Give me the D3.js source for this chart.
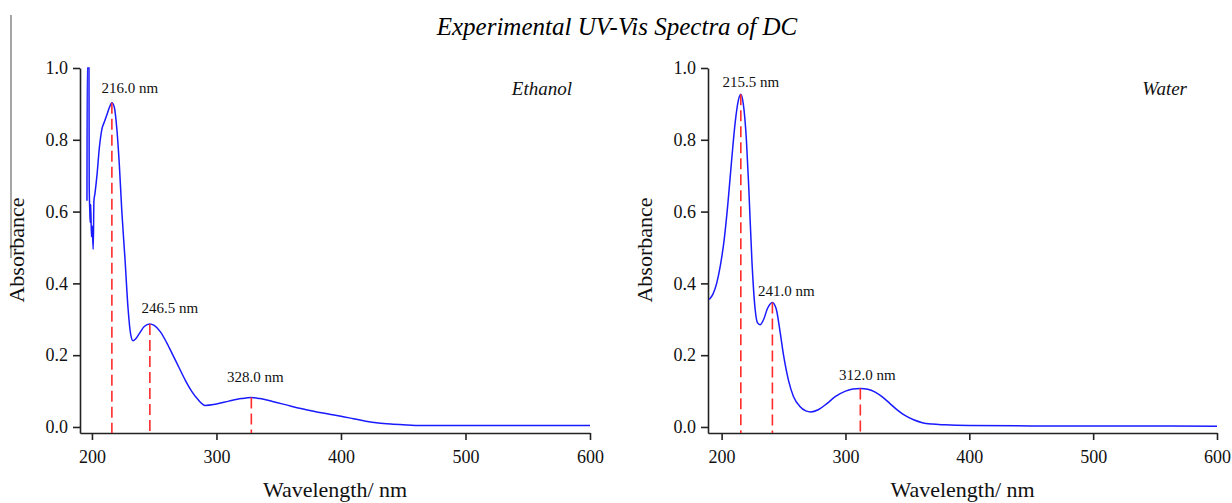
<!DOCTYPE html>
<html>
<head>
<meta charset="utf-8">
<script src="https://cdn.jsdelivr.net/npm/d3@7"></script>
<style>
  body { margin: 0; background: #fff; }
  svg { display: block; font-family: "Liberation Serif", "DejaVu Serif", serif; }
  .axis path, .axis line { stroke: #222; stroke-width: 1.6; }
  .spectrum { fill: none; stroke: #1a1aff; stroke-width: 1.5; }
  .peak-line { stroke: #ff2a2a; stroke-width: 1.6; stroke-dasharray: 11,5; }
  .peak-label { font-size: 15px; fill: #111; text-anchor: middle; }
  .solvent { font-size: 19px; font-style: italic; fill: #111; text-anchor: end; }
  .axis-title { font-size: 22px; fill: #111; text-anchor: middle; }
</style>
</head>
<body>
<svg id="chart" width="1232" height="503"></svg>
<script>
const ticksX = [200, 300, 400, 500, 600];
const ticksY = [0, 0.2, 0.4, 0.6, 0.8, 1.0];

const ethanolWl = [196.0, 196.2, 197.6, 197.8, 198.3, 198.6, 199.0, 199.6, 200.2, 201.0, 201.6, 202.4,
  204, 206, 208, 210, 212, 214, 216, 218, 220, 222, 224, 226.5, 229, 231, 233, 235, 238, 242, 246.5,
  250, 255, 260, 265, 270, 275, 280, 285, 291, 300, 310, 320, 328, 335, 345, 360, 375, 390, 400,
  410, 420, 430, 440, 450, 465, 500, 550, 600];
const ethanolAbs = [0.63, 1.0, 1.0, 0.67, 0.60, 0.57, 0.62, 0.53, 0.56, 0.495, 0.63, 0.65,
  0.70, 0.78, 0.83, 0.85, 0.87, 0.89, 0.903, 0.89, 0.83, 0.73, 0.60, 0.47, 0.33, 0.26, 0.24, 0.245, 0.26, 0.28, 0.287,
  0.283, 0.265, 0.235, 0.2, 0.165, 0.13, 0.1, 0.077, 0.06, 0.064, 0.072, 0.079, 0.082, 0.079, 0.071, 0.058, 0.046, 0.036, 0.030,
  0.023, 0.016, 0.011, 0.008, 0.006, 0.004, 0.004, 0.004, 0.004];

const waterWl = [190, 193, 196, 199, 202, 205, 208, 211, 213.5, 215.5, 217.5, 220, 222, 224.5, 227, 229, 231,
  234, 237, 241, 244, 247, 250, 254, 258, 263, 268, 272, 278, 285, 292, 300, 306, 312, 318, 324, 330,
  336, 342, 348, 355, 362, 370, 380, 400, 450, 500, 600];
const waterAbs = [0.355, 0.37, 0.40, 0.45, 0.52, 0.62, 0.74, 0.85, 0.91, 0.927, 0.90, 0.80, 0.66, 0.46, 0.33, 0.29, 0.285,
  0.30, 0.33, 0.347, 0.33, 0.27, 0.20, 0.13, 0.085, 0.058, 0.045, 0.042, 0.048, 0.065, 0.085, 0.100, 0.106, 0.107, 0.105, 0.097, 0.083,
  0.065, 0.047, 0.032, 0.02, 0.012, 0.008, 0.006, 0.004, 0.003, 0.003, 0.002];

const ethanolPeaks = [216.0, 246.5, 328.0];
const ethanolPeakAbs = [0.903, 0.287, 0.082];
const waterPeaks = [215.5, 241.0, 312.0];
const waterPeakAbs = [0.927, 0.347, 0.107];

// label offsets (px) relative to peak tops
const ethanolLabelOffsets = [[18, -10], [20, -11], [4, -16]];
const waterLabelOffsets = [[10, -7], [14, -6], [7, -9]];

const svg = d3.select("#chart");

svg.append("line")
  .attr("x1", 11).attr("x2", 11).attr("y1", 15).attr("y2", 258)
  .attr("stroke", "#888").attr("stroke-width", 1.5);

svg.append("text")
  .attr("x", 617).attr("y", 35)
  .attr("text-anchor", "middle")
  .style("font-size", "25px").style("font-style", "italic")
  .text("Experimental UV-Vis Spectra of DC");

function styleAxis(g) {
  g.attr("font-family", null).attr("font-size", null);
  g.selectAll("text")
    .style("font-family", '"Liberation Serif", serif')
    .style("font-size", "18px")
    .attr("fill", "#111");
}

function panel(opts) {
  const g = svg.append("g");
  const x = d3.scaleLinear().domain([opts.xmin, 600]).range([opts.left, opts.right]);
  const y = d3.scaleLinear().domain([-0.0168, 1.0]).range([433, 68]);

  g.append("g").attr("class", "axis")
    .attr("transform", "translate(0,433)")
    .call(d3.axisBottom(x).tickValues(ticksX).tickFormat(d3.format("d")).tickSize(7).tickSizeOuter(0).tickPadding(10))
    .call(styleAxis);

  g.append("g").attr("class", "axis")
    .attr("transform", `translate(${opts.left},0)`)
    .call(d3.axisLeft(y).tickValues(ticksY).tickFormat(d3.format(".1f")).tickSize(7).tickSizeOuter(0).tickPadding(5))
    .call(styleAxis);

  const pts = opts.wl.map((w, i) => [w, opts.abs[i]]);
  const line = d3.line().x(d => x(d[0])).y(d => y(d[1])).curve(d3.curveMonotoneX);
  g.append("path").datum(pts).attr("class", "spectrum").attr("d", line);

  g.selectAll("line.peak-line")
    .data(opts.peaks)
    .join("line")
    .attr("class", "peak-line")
    .attr("x1", d => x(d)).attr("x2", d => x(d))
    .attr("y1", (d, i) => y(opts.peakAbs[i]))
    .attr("y2", 433);

  g.selectAll("text.peak-label")
    .data(opts.peaks)
    .join("text")
    .attr("class", "peak-label")
    .attr("x", (d, i) => x(d) + opts.offsets[i][0])
    .attr("y", (d, i) => y(opts.peakAbs[i]) + opts.offsets[i][1])
    .text(d => d3.format(".1f")(d) + " nm");

  g.append("text").attr("class", "solvent")
    .attr("x", opts.solventX).attr("y", 95)
    .text(opts.solvent);

  g.append("text").attr("class", "axis-title")
    .attr("x", (opts.left + opts.right) / 2 + 0).attr("y", 497)
    .text("Wavelength/ nm");

  g.append("text").attr("class", "axis-title")
    .attr("transform", `translate(${opts.left - 56},250) rotate(-90)`)
    .text("Absorbance");
}

panel({ left: 80, right: 590, xmin: 190.4, wl: ethanolWl, abs: ethanolAbs,
  peaks: ethanolPeaks, peakAbs: ethanolPeakAbs, offsets: ethanolLabelOffsets,
  solvent: "Ethanol", solventX: 572 });

panel({ left: 708, right: 1217, xmin: 189, wl: waterWl, abs: waterAbs,
  peaks: waterPeaks, peakAbs: waterPeakAbs, offsets: waterLabelOffsets,
  solvent: "Water", solventX: 1187 });
</script>
</body>
</html>
